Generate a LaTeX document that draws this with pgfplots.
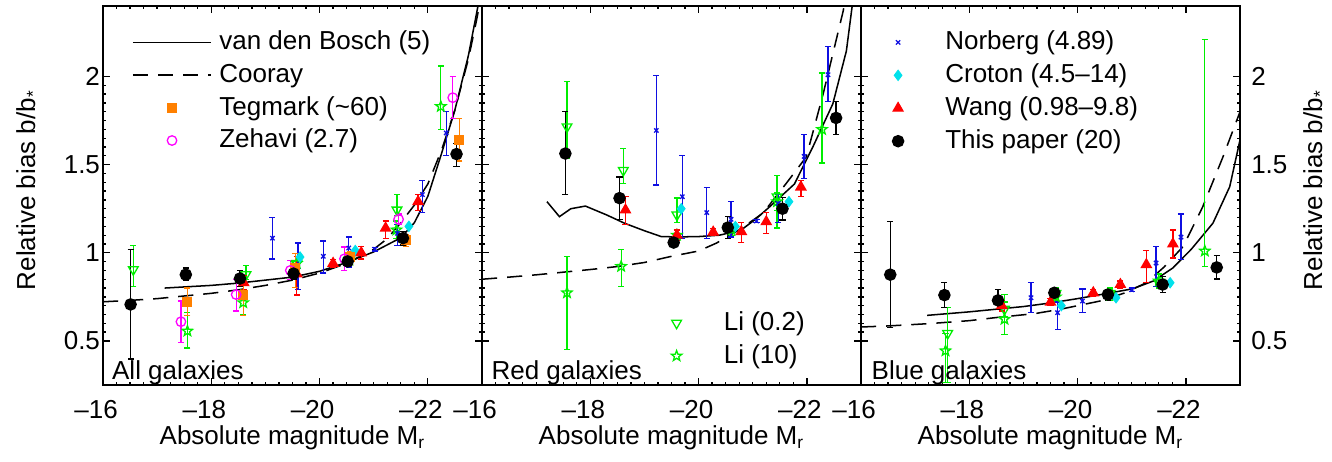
\documentclass[border=0pt]{standalone}
\usepackage{fontspec}
\setmainfont{Liberation Sans}
\usepackage{pgfplots}
\pgfplotsset{compat=1.18}

\definecolor{cOrange}{RGB}{255,128,0}
\definecolor{cMag}{RGB}{255,0,255}
\definecolor{cGreen}{RGB}{0,238,0}
\definecolor{cRed}{RGB}{255,0,0}
\definecolor{cBlue}{RGB}{15,15,225}
\definecolor{cCyan}{RGB}{0,225,235}

% outlined five-point star
\pgfdeclareplotmark{ostar}{%
  \pgfpathmoveto{\pgfpointpolar{90}{\pgfplotmarksize}}%
  \pgfpathlineto{\pgfpointpolar{126}{0.42\pgfplotmarksize}}%
  \pgfpathlineto{\pgfpointpolar{162}{\pgfplotmarksize}}%
  \pgfpathlineto{\pgfpointpolar{198}{0.42\pgfplotmarksize}}%
  \pgfpathlineto{\pgfpointpolar{234}{\pgfplotmarksize}}%
  \pgfpathlineto{\pgfpointpolar{270}{0.42\pgfplotmarksize}}%
  \pgfpathlineto{\pgfpointpolar{306}{\pgfplotmarksize}}%
  \pgfpathlineto{\pgfpointpolar{342}{0.42\pgfplotmarksize}}%
  \pgfpathlineto{\pgfpointpolar{18}{\pgfplotmarksize}}%
  \pgfpathlineto{\pgfpointpolar{54}{0.42\pgfplotmarksize}}%
  \pgfpathclose\pgfusepathqstroke}

\pgfplotsset{
  panel/.style={
    scale only axis, width=174.9pt, height=174.9pt,
    anchor=north west,
    xmin=-23, xmax=-16, x dir=reverse, ymin=0.25, ymax=2.4,
    xtick={-16,-18,-20,-22},
    xticklabels={\textendash16,\textendash18,\textendash20,\textendash22},
    minor x tick num=7,
    ytick={0.5,1,1.5,2}, minor y tick num=9,
    xtick pos=both, ytick pos=both,
    tick align=inside, major tick length=3.2pt, minor tick length=1.6pt,
    axis line style={line width=0.9pt},
    every tick/.style={black, line width=0.6pt},
    xticklabel shift=6.5pt,
    xticklabel style={xshift=-3.2pt, inner ysep=0.5pt},
    xlabel={Absolute magnitude M\textsubscript{r}},
    xlabel style={at={(axis description cs:0.5,-0.158)}, anchor=base, inner ysep=0.5pt},
    /pgf/number format/assume math mode=true,
    legend cell align=left,
    legend style={draw=none, fill=none, inner sep=0pt, row sep=0.7pt, anchor=north west},
  },
  leg/.style={legend image code/.code={\draw[mark repeat=2,mark phase=2,##1] plot coordinates {(0cm,0cm) (0.635cm,0cm) (1.27cm,0cm)};\path (1.32cm,0cm);}},
  eb/.style={error bars/y dir=both, error bars/y explicit, error bars/error mark=-,
    error bars/error bar style={line width=0.6pt},
    error bars/error mark options={rotate=90, mark size=1.4pt, line width=0.6pt}},
  sPaper/.style={only marks, black, line width=0.6pt, mark=*, mark size=2.6pt, eb, leg},
  sTeg/.style={only marks, cOrange, line width=0.6pt, mark=square*, mark size=2pt, eb, leg},
  sZeh/.style={only marks, cMag, line width=0.6pt, mark=o, mark size=2.2pt, eb, leg},
  sLiA/.style={only marks, cGreen, line width=0.6pt, mark=triangle, mark size=2.6pt, mark options={rotate=180}, eb, leg},
  sLiB/.style={only marks, cGreen, line width=0.6pt, mark=ostar, mark size=2.5pt, eb, leg},
  sWang/.style={only marks, cRed, line width=0.6pt, mark=triangle*, mark size=2.6pt, eb, leg},
  sNor/.style={only marks, cBlue, line width=0.6pt, mark=x, mark size=1.4pt, eb, leg},
  sCro/.style={only marks, cCyan, mark=diamond*, mark size=2.4pt, leg},
  vdb/.style={black, line width=0.7pt, no marks, leg},
  coo/.style={black, line width=0.7pt, no marks, dash pattern=on 7pt off 4.6pt, leg},
}

\begin{document}
\fontsize{12}{14.4}\selectfont
\begin{tikzpicture}
\useasboundingbox (0,0) rectangle (614.7pt,-213.2pt);

% ---------------- All galaxies ----------------
\begin{axis}[panel, at={(47.53pt,-2.77pt)},
  yticklabel style={inner xsep=1.2pt},
  ylabel={Relative bias b/b\textsubscript{*}},
  ylabel style={at={(axis description cs:-0.1794,0.514)}, anchor=base},
  legend style={at={(axis description cs:0.0757,0.9465)}}]
\addplot[vdb] coordinates {(-17.14,0.800) (-18,0.815) (-18.5,0.828) (-19,0.845) (-19.5,0.862) (-20,0.895) (-20.5,0.945) (-21,1.005) (-21.5,1.085) (-21.75,1.17) (-22,1.32) (-22.25,1.56) (-22.5,1.81) (-22.75,2.12) (-22.92,2.39) (-23,2.52)};
\addplot[coo] coordinates {(-16,0.722) (-16.5,0.73) (-17,0.74) (-17.5,0.755) (-18,0.77) (-18.5,0.79) (-19,0.815) (-19.5,0.845) (-20,0.885) (-20.5,0.94) (-21,1.02) (-21.25,1.08) (-21.5,1.17) (-21.75,1.27) (-22,1.39) (-22.25,1.58) (-22.5,1.81) (-22.75,2.10) (-22.9,2.32) (-23,2.48)};
\addplot[sLiA, forget plot] table[x=x,y=y,y error plus=p,y error minus=m,row sep=\\] {
x y p m\\ -16.56 0.905 0.135 0.098\\ -18.64 0.876 0.051 0.028\\ -19.58 0.94 0.04 0.04\\ -20.55 0.96 0.03 0.03\\ -21.43 1.243 0.087 0.033\\};
\addplot[sLiB, forget plot] table[x=x,y=y,y error plus=p,y error minus=m,row sep=\\] {
x y p m\\ -17.56 0.556 0.104 0.096\\ -18.59 0.717 0.073 0.067\\ -19.58 0.94 0.04 0.04\\ -20.55 0.96 0.03 0.03\\ -21.42 1.13 0.05 0.05\\ -22.24 1.83 0.23 0.13\\};
\addplot[sNor, forget plot] table[x=x,y=y,y error plus=p,y error minus=m,row sep=\\] {
x y p m\\ -19.13 1.083 0.117 0.118\\ -19.6 0.92 0.135 0.13\\ -20.07 0.98 0.087 0.094\\ -20.54 1.027 0.063 0.107\\ -21.02 1.02 0.01 0.01\\ -21.44 1.11 0.05 0.07\\ -21.9 1.33 0.08 0.10\\ -22.34 1.68 0.12 0.13\\};
\addplot[sCro, forget plot] table[row sep=\\] {
x y\\ -19.64 0.976\\ -20.66 1.013\\ -21.65 1.15\\};
\addplot[sWang, forget plot] table[x=x,y=y,y error plus=p,y error minus=m,row sep=\\] {
x y p m\\ -18.6 0.83 0.04 0.04\\ -19.58 0.88 0.10 0.12\\ -20.25 0.94 0.02 0.02\\ -20.77 1.0 0.035 0.035\\ -21.22 1.14 0.04 0.06\\ -21.82 1.29 0.04 0.05\\};
\addplot[sTeg] table[x=x,y=y,y error plus=p,y error minus=m,row sep=\\] {
x y p m\\ -17.56 0.722 0.078 0.077\\ -18.59 0.763 0.077 0.118\\ -19.55 0.914 0.08 0.11\\ -20.56 0.976 0.03 0.03\\ -21.6 1.074 0.03 0.04\\ -22.58 1.64 0.12 0.12\\};
\addplot[sZeh] table[x=x,y=y,y error plus=p,y error minus=m,row sep=\\] {
x y p m\\ -17.44 0.609 0.117 0.119\\ -18.46 0.763 0.087 0.093\\ -19.46 0.90 0.057 0.052\\ -20.46 0.966 0.067 0.066\\ -21.46 1.19 0.03 0.03\\ -22.46 1.88 0.12 0.12\\};
\addplot[sPaper, forget plot] table[x=x,y=y,y error plus=p,y error minus=m,row sep=\\] {
x y p m\\ -16.51 0.707 0.313 0.310\\ -17.53 0.876 0.038 0.032\\ -18.53 0.854 0.046 0.044\\ -19.52 0.882 0.03 0.03\\ -20.52 0.951 0.03 0.03\\ -21.54 1.083 0.037 0.038\\ -22.53 1.56 0.06 0.07\\};
\legend{van den Bosch (5), Cooray, Tegmark (\textasciitilde60), Zehavi (2.7)}
\node[anchor=base west, inner sep=0pt] at (axis description cs:0.023,0.0132) {All galaxies};
\end{axis}

% ---------------- Red galaxies ----------------
\begin{axis}[panel, at={(222.44pt,-2.77pt)}, yticklabels={},
  legend style={at={(axis description cs:0.4987,0.206)}}]
\addplot[vdb, forget plot] coordinates {(-17.2,1.29) (-17.43,1.205) (-17.64,1.25) (-17.91,1.265) (-18.3,1.215) (-18.63,1.168) (-19.0,1.125) (-19.31,1.092) (-19.6,1.09) (-20.0,1.092) (-20.39,1.10) (-20.79,1.13) (-21.05,1.19) (-21.31,1.26) (-21.77,1.39) (-22.11,1.60) (-22.48,1.845) (-22.73,2.145) (-22.85,2.43)};
\addplot[coo, forget plot] coordinates {(-16,0.85) (-16.5,0.862) (-17,0.875) (-17.5,0.89) (-18,0.905) (-18.5,0.922) (-19,0.945) (-19.5,0.98) (-20,1.01) (-20.33,1.055) (-20.75,1.13) (-21.19,1.225) (-21.62,1.394) (-21.99,1.544) (-22.3,1.90) (-22.67,2.37) (-22.75,2.5)};
\addplot[sLiA] table[x=x,y=y,y error plus=p,y error minus=m,row sep=\\] {
x y p m\\ -17.57 1.715 0.255 0.18\\ -18.61 1.468 0.122 0.073\\ -19.6 1.215 0.095 0.045\\ -21.45 1.318 0.122 0.178\\};
\addplot[sLiB] table[x=x,y=y,y error plus=p,y error minus=m,row sep=\\] {
x y p m\\ -17.57 0.773 0.207 0.32\\ -18.57 0.923 0.097 0.116\\ -19.6 1.10 0.03 0.03\\ -20.61 1.13 0.03 0.03\\ -21.45 1.29 0.05 0.05\\ -22.28 1.70 0.32 0.19\\};
\addplot[sNor, forget plot] table[x=x,y=y,y error plus=p,y error minus=m,row sep=\\] {
x y p m\\ -19.22 1.694 0.31 0.31\\ -19.7 1.318 0.232 0.235\\ -20.15 1.228 0.142 0.148\\ -20.6 1.19 0.10 0.10\\ -21.07 1.18 0.01 0.01\\ -21.47 1.28 0.05 0.11\\ -21.95 1.547 0.123 0.127\\ -22.39 2.01 0.16 0.15\\};
\addplot[sCro, forget plot] table[row sep=\\] {
x y\\ -19.68 1.25\\ -20.68 1.149\\ -21.67 1.29\\};
\addplot[sWang, forget plot] table[x=x,y=y,y error plus=p,y error minus=m,row sep=\\] {
x y p m\\ -18.65 1.243 0.077 0.083\\ -19.6 1.10 0.03 0.03\\ -20.27 1.117 0.02 0.02\\ -20.79 1.12 0.05 0.06\\ -21.25 1.176 0.054 0.066\\ -21.89 1.373 0.037 0.053\\};
\addplot[sPaper, forget plot] table[x=x,y=y,y error plus=p,y error minus=m,row sep=\\] {
x y p m\\ -17.54 1.563 0.237 0.233\\ -18.54 1.31 0.12 0.12\\ -19.54 1.058 0.02 0.02\\ -20.54 1.143 0.062 0.06\\ -21.55 1.25 0.065 0.064\\ -22.54 1.765 0.095 0.095\\};
\legend{Li (0.2), Li (10)}
\node[anchor=base west, inner sep=0pt] at (axis description cs:0.024,0.0132) {Red galaxies};
\end{axis}

% ---------------- Blue galaxies ----------------
\begin{axis}[panel, at={(397.35pt,-2.77pt)},
  yticklabel pos=right, yticklabel style={inner xsep=5pt},
  ylabel={Relative bias b/b\textsubscript{*}},
  ylabel style={at={(axis description cs:1.2164,0.514)}, anchor=base},
  legend style={at={(axis description cs:0.0818,0.9465)}}]
\addplot[vdb, forget plot] coordinates {(-17.22,0.645) (-18,0.665) (-18.5,0.68) (-19,0.695) (-19.49,0.715) (-20,0.74) (-20.56,0.77) (-21.02,0.796) (-21.4,0.84) (-21.76,0.914) (-22.1,1.02) (-22.5,1.168) (-22.81,1.375) (-23,1.64)};
\addplot[coo, forget plot] coordinates {(-16,0.579) (-16.5,0.585) (-17.25,0.598) (-18,0.615) (-18.48,0.632) (-19.21,0.655) (-19.67,0.679) (-20.41,0.726) (-20.85,0.77) (-21.27,0.83) (-21.6,0.92) (-21.95,1.036) (-22.31,1.26) (-22.68,1.54) (-23,1.80)};
\addplot[sLiA, forget plot] table[x=x,y=y,y error plus=p,y error minus=m,row sep=\\] {
x y p m\\ -17.6 0.543 0.147 0.278\\ -18.65 0.68 0.04 0.04\\ -19.6 0.77 0.03 0.03\\ -20.6 0.77 0.03 0.03\\ -21.5 0.83 0.03 0.03\\};
\addplot[sLiB, forget plot] table[x=x,y=y,y error plus=p,y error minus=m,row sep=\\] {
x y p m\\ -17.56 0.444 0.10 0.18\\ -18.65 0.623 0.14 0.085\\ -19.6 0.75 0.03 0.03\\ -20.6 0.76 0.03 0.03\\ -21.5 0.84 0.04 0.04\\ -22.35 1.01 1.2 0.087\\};
\addplot[sNor] table[x=x,y=y,y error plus=p,y error minus=m,row sep=\\] {
x y p m\\ -19.14 0.745 0.085 0.085\\ -19.63 0.66 0.06 0.094\\ -20.09 0.726 0.069 0.066\\ -21.0 0.79 0.01 0.01\\ -21.45 0.942 0.094 0.132\\ -21.91 1.089 0.131 0.129\\};
\addplot[sCro] table[row sep=\\] {
x y\\ -19.7 0.70\\ -20.71 0.745\\ -21.71 0.83\\};
\addplot[sWang] table[x=x,y=y,y error plus=p,y error minus=m,row sep=\\] {
x y p m\\ -18.6 0.70 0.03 0.03\\ -19.5 0.72 0.02 0.02\\ -20.29 0.773 0.02 0.02\\ -20.79 0.82 0.02 0.02\\ -21.27 0.933 0.08 0.10\\ -21.76 1.05 0.08 0.08\\};
\addplot[sPaper] table[x=x,y=y,y error plus=p,y error minus=m,row sep=\\] {
x y p m\\ -16.54 0.876 0.30 0.30\\ -17.54 0.76 0.07 0.07\\ -18.53 0.73 0.06 0.05\\ -19.57 0.773 0.02 0.02\\ -20.56 0.763 0.03 0.03\\ -21.57 0.82 0.047 0.047\\ -22.57 0.917 0.066 0.065\\};
\legend{Norberg (4.89), Croton (4.5–14), Wang (0.98–9.8), This paper (20)}
\node[anchor=base west, inner sep=0pt] at (axis description cs:0.027,0.0132) {Blue galaxies};
\end{axis}
\end{tikzpicture}
\end{document}
